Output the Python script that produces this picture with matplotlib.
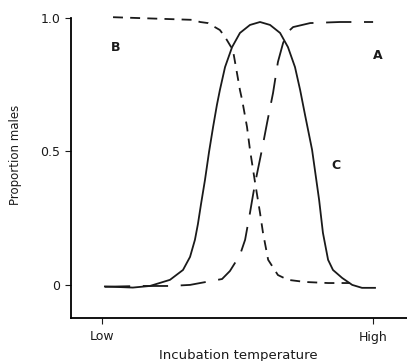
import matplotlib
matplotlib.use("Agg")
import matplotlib.pyplot as plt

plt.rcParams['font.family'] = ['Liberation Sans Narrow', 'DejaVu Sans']

# curva C (continua): machos solo a temperaturas intermedias
c_x = [0.011, 0.114, 0.177, 0.251, 0.299, 0.325, 0.343, 0.354, 0.365, 0.380,
       0.395, 0.410, 0.424, 0.435, 0.454, 0.480, 0.509, 0.546, 0.583, 0.620,
       0.657, 0.686, 0.712, 0.731, 0.749, 0.775, 0.801, 0.815, 0.834, 0.852,
       0.886, 0.923, 0.959, 1.007]
c_y = [-0.006, -0.010, -0.004, 0.019, 0.056, 0.105, 0.169, 0.228, 0.300, 0.393,
       0.498, 0.592, 0.674, 0.730, 0.816, 0.891, 0.944, 0.974, 0.985, 0.974,
       0.944, 0.891, 0.816, 0.730, 0.637, 0.506, 0.318, 0.195, 0.094, 0.056,
       0.026, 0.000, -0.011, -0.011]

# curva B (guion corto): machos a baja temperatura
b_x = [0.041, 0.336, 0.362, 0.391, 0.435, 0.454, 0.483, 0.498, 0.509, 0.517,
       0.535, 0.546, 0.565, 0.583, 0.594, 0.613, 0.649, 0.686, 0.749, 0.834,
       0.915]
b_y = [1.003, 0.993, 0.985, 0.981, 0.955, 0.929, 0.880, 0.794, 0.730, 0.693,
       0.592, 0.506, 0.382, 0.270, 0.195, 0.094, 0.037, 0.019, 0.011, 0.007,
       0.007]

# curva A (guion largo): machos a alta temperatura
a_x = [0.011, 0.140, 0.251, 0.325, 0.362, 0.443, 0.472, 0.509, 0.528, 0.546,
       0.554, 0.565, 0.590, 0.609, 0.631, 0.649, 0.668, 0.686, 0.705, 0.768,
       0.878, 1.000]
a_y = [-0.007, -0.004, -0.004, 0.000, 0.007, 0.022, 0.052, 0.112, 0.169, 0.270,
       0.318, 0.382, 0.506, 0.607, 0.719, 0.835, 0.906, 0.948, 0.966, 0.981,
       0.985, 0.985]

y_ticks = [0, 0.5, 1.0]
y_labels = ['0', '0.5', '1.0']
x_ticks = [0, 1]
x_labels = ['Low', 'High']

fig = plt.figure(figsize=(4.07, 3.61), dpi=100)
ax = fig.add_axes([71/407, 43/361, 336/407, 300/361])

col = '#1a1a1a'
ax.plot(c_x, c_y, color=col, lw=1.3, solid_joinstyle='round')
ax.plot(b_x, b_y, color=col, lw=1.3, dashes=(5.5, 4), dash_joinstyle='round', clip_on=False)
ax.plot(a_x, a_y, color=col, lw=1.3, dashes=(14, 7), dash_joinstyle='round', clip_on=False)

ax.text(0.052, 0.888, 'B', fontsize=9, fontweight='bold', ha='center', va='center', color=col)
ax.text(1.018, 0.861, 'A', fontsize=9, fontweight='bold', ha='center', va='center', color=col)
ax.text(0.863, 0.449, 'C', fontsize=9, fontweight='bold', ha='center', va='center', color=col)

ax.set_xlim(-0.114, 1.125)
ax.set_ylim(-0.124, 1.0)
ax.spines['top'].set_visible(False)
ax.spines['right'].set_visible(False)
ax.spines['left'].set_linewidth(1.3)
ax.spines['bottom'].set_linewidth(1.3)
ax.set_yticks(y_ticks)
ax.set_yticklabels(y_labels)
ax.set_xticks(x_ticks)
ax.set_xticklabels(x_labels)
ax.tick_params(axis='both', length=4, width=0.8, labelsize=9, colors=col)
ax.tick_params(axis='x', pad=5)

fig.text(238/407, 1 - 355/361, 'Incubation temperature', ha='center', va='center',
         fontsize=9.5, color=col)
fig.text(16/407, 1 - 155/361, 'Proportion males', ha='center', va='center', rotation=90,
         fontsize=8.5, color=col)

fig.savefig('out.png', dpi=100)
